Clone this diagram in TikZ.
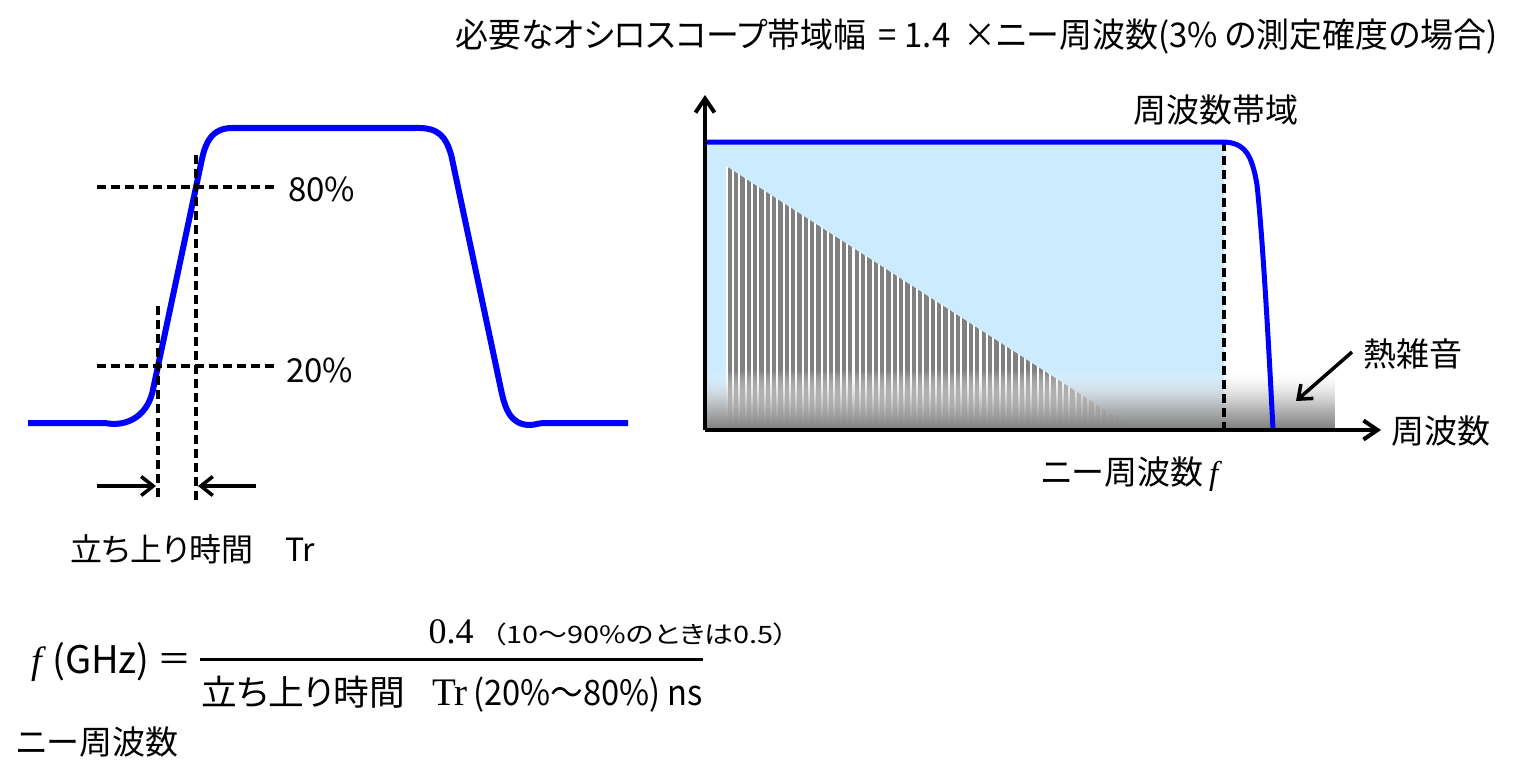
\documentclass[tikz,border=0pt]{standalone}
\usepackage{fontspec}
\setmainfont{Noto Sans CJK JP}[RawFeature=+palt]
\newfontfamily\tmsrm{Liberation Serif}
\usetikzlibrary{arrows.meta}
\newcommand\fs[1]{\fontsize{#1}{#1}\selectfont}
\definecolor{lightbl}{RGB}{204,235,255}
\begin{document}
\begin{tikzpicture}[x=1pt,y=-1pt,
  lbl/.style={inner sep=0pt, anchor=west, font=\fs{33}},
  blbl/.style={inner sep=0pt, anchor=base west, font=\fs{35}},
  wave/.style={blue, line width=6pt, line join=round},
  dsh/.style={black, line width=3.2pt, dash pattern=on 9pt off 5pt},
  dsh2/.style={black, line width=4.5pt, dash pattern=on 9pt off 5pt},
  dimarr/.style={black, line width=3.5pt, -{Straight Barb[length=12pt,width=19pt]}},
  axis/.style={black, line width=4pt, -{Straight Barb[length=14pt,width=19pt]}},
]
\useasboundingbox (0,0) rectangle (1530,773);

% ---------- top text
\node[blbl, font=\fs{34}] (title) at (455,48) {\resizebox{1042pt}{\height}{必要なオシロスコープ帯域幅\hspace{5pt} = 1.4\hspace{6pt} ×ニー周波数(3\% の測定確度の場合)}};

% ---------- left waveform
\draw[wave] (28,423) -- (105,423) .. controls (125,427) and (146,418) .. (152.5,392)
  -- (200.7,165) .. controls (204,149) and (208,128) .. (232,128)
  -- (415,128) .. controls (440,127) and (446,138) .. (451.2,155)
  -- (501.1,390) .. controls (505,408) and (510,425) .. (530,425)
  .. controls (535,425) and (538,423) .. (545,423) -- (628,423);

\coordinate (h80a) at (97,187);  \coordinate (h80b) at (274,187);
\coordinate (h20a) at (97,366);  \coordinate (h20b) at (274,366);
\coordinate (vLa) at (158,306);  \coordinate (vLb) at (158,500);
\coordinate (vRa) at (196,155);  \coordinate (vRb) at (196,502);
\draw[dsh] (h80a) -- (h80b);
\draw[dsh] (h20a) -- (h20b);
\draw[dsh] (vLa) -- (vLb);
\draw[dsh] (vRa) -- (vRb);
\coordinate (aLs) at (97,486);  \coordinate (aLe) at (156,486);
\coordinate (aRs) at (256,486); \coordinate (aRe) at (198,486);
\draw[dimarr] (aLs) -- (aLe);
\draw[dimarr] (aRs) -- (aRe);

\node[lbl] (p80) at (288,189) {80\%};
\node[lbl] (p20) at (286,370) {20\%};
\node[lbl, font=\fs{32}] (tr) at (70,549) {立ち上り時間　Tr};

% ---------- right chart
\fill[lightbl] (705,142) rectangle (1224,430);
\begin{scope}
  \clip (726,166) -- (1136,430) -- (726,430) -- cycle;
  \fill[white] (700,150) rectangle (1150,431);
  \foreach \i in {0,...,65} {
    \fill[gray] ({727.5+6.35*\i},150) rectangle ({731.8+6.35*\i},431);
  }
\end{scope}
\foreach \k in {0,...,29} {
  \pgfmathsetmacro\t{(\k+0.5)/30}
  \pgfmathsetmacro\pc{50*\t}
  \pgfmathsetmacro\op{\t*(2-\t)}
  \fill[black!\pc, opacity=\op] (705,{370+2*\k}) rectangle (1335,{372+2*\k});
}
\coordinate (bwa) at (1224,142); \coordinate (bwb) at (1224,430);
\draw[dsh2] (bwa) -- (bwb);
\draw[blue, line width=5pt] (705,142) -- (1222,142) .. controls (1245,142) and (1252,155) .. (1257,185)
  .. controls (1262,230) and (1268,330) .. (1273,430);

\coordinate (o) at (705,430);
\coordinate (ytop) at (705,95);
\coordinate (xend) at (1381,430);
\draw[axis] (o) -- (ytop);
\draw[axis] (o) -- (xend);

\node[lbl] (bw) at (1133,110) {周波数帯域};
\node[lbl] (fq) at (1391,431) {周波数};
\node[lbl] (noise) at (1363,354) {熱雑音};
\coordinate (na) at (1352,352); \coordinate (nb) at (1296,401);
\draw[dimarr] (na) -- (nb);
\node[lbl] (knee) at (1041,474) {ニー周波数\hspace{6pt}{\tmsrm\itshape f}};

% ---------- formula
\node[inner sep=0pt, font=\fs{38}\tmsrm\itshape] (fi) at (37,664) {f};
\node[lbl, font=\fs{38}] (ghz) at (52,662) {(GHz)};
\node[inner sep=0pt, font=\fs{34}] (eq) at (174,662) {＝};
\coordinate (fra) at (200,659); \coordinate (frb) at (703,659);
\draw[black, line width=3pt] (fra) -- (frb);
\node[inner sep=0pt, anchor=base, font=\fs{36}\tmsrm] (num) at (451,643) {0.4};
\node[blbl, font=\fs{24}] (note) at (492,643) {\resizebox{296pt}{\height}{（10〜90\%のときは0.5）}};
\node[blbl] (den1) at (201,705) {\resizebox{204pt}{\height}{立ち上り時間}};
\node[blbl, font=\fs{39}\tmsrm] (den2) at (432,705) {Tr};
\node[blbl] (den3) at (473,705) {\resizebox{230pt}{\height}{(20\%〜80\%) ns}};
\node[lbl] (kneeb) at (16,742) {ニー周波数};
\end{tikzpicture}
\end{document}
